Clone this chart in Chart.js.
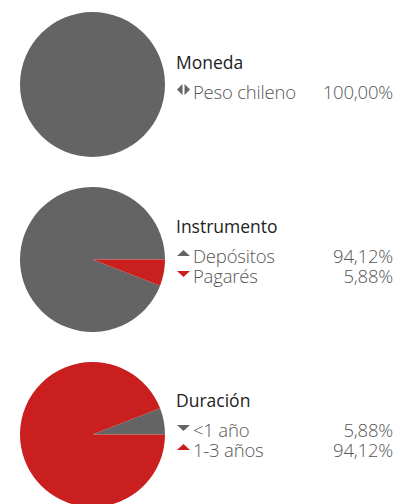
<!DOCTYPE html>
<html>
<head>
<meta charset="utf-8">
<script src="https://cdn.jsdelivr.net/npm/chart.js@4"></script>
<style>
  html, body { margin: 0; padding: 0; background: #fff; }
  body { width: 394px; height: 504px; position: relative; overflow: hidden; font-family: "Open Sans", sans-serif; }
  .pie { position: absolute; left: 20px; width: 145px; height: 145px; }
  .legend { position: absolute; left: 176px; width: 218px; }
  .legend h3 { margin: 0 0 9px 0; font-weight: 400; font-size: 17.5px; color: #222; line-height: 22px; }
  .row { display: flex; align-items: center; font-size: 18.5px; font-weight: 300; color: #555; line-height: 20px; letter-spacing: -0.2px; }
  .row .mk { width: 17px; height: 20px; position: relative; }
  .row .lbl { flex: 1; }
  .row .val { text-align: right; padding-right: 1px; }
</style>
</head>
<body>
<div class="pie" style="top:12px"><canvas id="c1"></canvas></div>
<div class="pie" style="top:187px"><canvas id="c2"></canvas></div>
<div class="pie" style="top:362px"><canvas id="c3"></canvas></div>

<div class="legend" id="l1" style="top:51px"></div>
<div class="legend" id="l2" style="top:215px"></div>
<div class="legend" id="l3" style="top:389px"></div>

<script>
// Portfolio composition: currency, instrument and duration
const GRAY = '#646464';
const RED = '#c91f1f';

const monedaLabels = ['Peso chileno'];
const monedaValues = [100.00];
const monedaColors = [GRAY];
const monedaMarks = ['both'];

const instrumentoLabels = ['Depósitos', 'Pagarés'];
const instrumentoValues = [94.12, 5.88];
const instrumentoColors = [GRAY, RED];
const instrumentoMarks = ['up', 'down'];

const duracionLabels = ['<1 año', '1-3 años'];
const duracionValues = [5.88, 94.12];
const duracionColors = [GRAY, RED];
const duracionMarks = ['down', 'up'];

function fmt(v) {
  return v.toFixed(2).replace('.', ',') + '%';
}

function markerSvg(kind, color) {
  let shape;
  if (kind === 'up') shape = '<polygon points="1,10 14,10 7.5,4" fill="' + color + '"/>';
  else if (kind === 'down') shape = '<polygon points="1,5 14,5 7.5,11" fill="' + color + '"/>';
  else shape = '<polygon points="6.5,2 6.5,13 1,7.5" fill="' + color + '"/><polygon points="8.5,2 8.5,13 14,7.5" fill="' + color + '"/>';
  return '<svg width="15" height="16" style="position:absolute;left:0;top:0">' + shape + '</svg>';
}

function buildLegend(id, title, labels, values, colors, marks) {
  const el = document.getElementById(id);
  let html = '<h3>' + title + '</h3>';
  labels.forEach((l, i) => {
    const txt = l.replace(/</g, '&lt;');
    html += '<div class="row"><span class="mk">' + markerSvg(marks[i], colors[i]) + '</span>' +
            '<span class="lbl">' + txt + '</span><span class="val">' + fmt(values[i]) + '</span></div>';
  });
  el.innerHTML = html;
}

// rotation in degrees so that the slice boundary sits at 3 o'clock
function makePie(id, labels, values, colors, rotation) {
  new Chart(document.getElementById(id), {
    type: 'pie',
    data: { labels: labels, datasets: [{ data: values, backgroundColor: colors, borderWidth: 0 }] },
    options: {
      responsive: true,
      maintainAspectRatio: false,
      animation: false,
      rotation: rotation,
      layout: { padding: 0 },
      plugins: { legend: { display: false }, tooltip: { enabled: false } }
    }
  });
}

makePie('c1', monedaLabels, monedaValues, monedaColors, 90);
// Depósitos ends at 3 o'clock, Pagarés follows clockwise
makePie('c2', instrumentoLabels, instrumentoValues, instrumentoColors, 90 + instrumentoValues[1] * 3.6);
// <1 año ends at 3 o'clock, 1-3 años follows clockwise
makePie('c3', duracionLabels, duracionValues, duracionColors, 90 - duracionValues[0] * 3.6);

buildLegend('l1', 'Moneda', monedaLabels, monedaValues, monedaColors, monedaMarks);
buildLegend('l2', 'Instrumento', instrumentoLabels, instrumentoValues, instrumentoColors, instrumentoMarks);
buildLegend('l3', 'Duración', duracionLabels, duracionValues, duracionColors, duracionMarks);
</script>
</body>
</html>
